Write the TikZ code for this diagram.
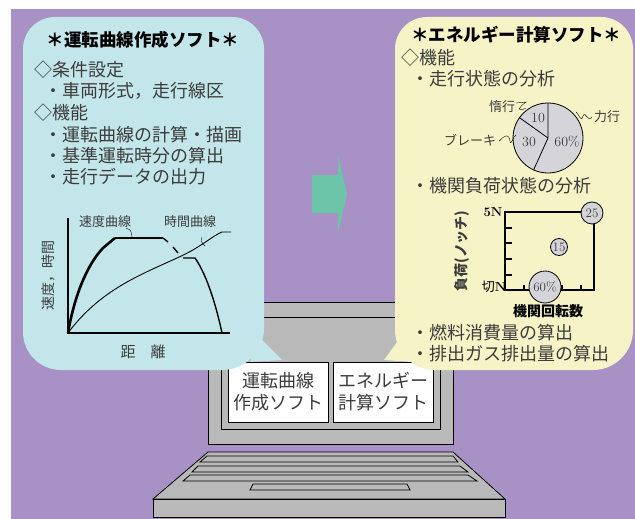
\documentclass[tikz,border=0pt]{standalone}
\usepackage{fontspec}
\usepackage{tikz}
\newfontfamily\jp{Noto Sans CJK JP}
\definecolor{bgpurple}{HTML}{A891C5}
\definecolor{bubblecyan}{HTML}{C3E6EA}
\definecolor{bubbleyellow}{HTML}{F6F4C6}
\definecolor{pcgray}{HTML}{B9B9B9}
\definecolor{arrowgreen}{HTML}{6CC5A9}
\definecolor{piegray}{HTML}{D5D5D9}
\definecolor{ink}{HTML}{3C3C3C}
\def\bodysize{\fontsize{18}{21}\selectfont}
\def\labsize{\fontsize{13}{15}\selectfont}
\newcommand{\lne}[3]{\node[line] (#1) at (#2) {#3};}

\begin{document}
\begin{tikzpicture}[x=1pt,y=-1pt,
  line/.style={anchor=west,inner sep=0pt,text=ink,font=\jp\bodysize},
  heading/.style={inner sep=0pt,font=\jp\bfseries\fontsize{17.5}{20}\selectfont},
  lab/.style={inner sep=0pt,text=ink,font=\jp\labsize},
  num/.style={inner sep=0pt,text=ink,font=\rmfamily\fontsize{14}{16}\selectfont},
  scrbox/.style={draw,thick,fill=white,minimum width=100pt,minimum height=60pt,
    align=center,text=ink,font=\jp\fontsize{18}{22}\selectfont},
  dot/.style={circle,draw,thick,fill=piegray,inner sep=0pt,text=ink,
    font=\rmfamily\fontsize{13}{15}\selectfont}]
\useasboundingbox (0,0) rectangle (635,519);
\fill[bgpurple] (11,9) rectangle (635,519);

% laptop
\draw[thick,fill=pcgray] (208,302) rectangle (453,444);
\draw[thick] (221,317) rectangle (440,429);
\draw[thick,fill=pcgray] (208,452) -- (453,452) -- (505,499) -- (153,499) -- cycle;
\draw[thick,fill=pcgray] (153,499) rectangle (505,517);
\draw[thick,fill=pcgray] (207,456) -- (453,456) -- (458,462) -- (200,462) -- cycle;
\draw[thick,fill=pcgray] (198,466) -- (460,466) -- (468,472) -- (192,472) -- cycle;
\draw[thick,fill=pcgray] (190,475) -- (468,475) -- (477,481) -- (183,481) -- cycle;
\draw[thick,fill=pcgray] (253,484) -- (407,484) -- (410,490) -- (250,490) -- cycle;

% screen windows
\node[scrbox] (drvbox) at (278,392) {運転曲線\\作成ソフト};
\node[scrbox] (engbox) at (383,392) {エネルギー\\計算ソフト};

% speech bubbles
\fill[bubblecyan] (23,200) [rounded corners=32pt] -- (23,17) -- (264,17) -- (264,200)
  [rounded corners=42pt] -- (264,370) -- (150,370) [rounded corners=38pt] -- (23,370) -- (23,200);
\fill[bubblecyan] (258,336) -- (282,360) -- (250,362) -- cycle;
\fill[bubbleyellow] (395,200) [rounded corners=32pt] -- (395,17) -- (633,17) -- (633,200)
  [rounded corners=40pt] -- (633,370) -- (500,370) -- (395,370) -- (395,200);
\fill[bubbleyellow] (400,338) -- (384,360) -- (414,362) -- cycle;

% arrow
\fill[arrowgreen] (312,175) rectangle (339,213);
\fill[arrowgreen] (338,156) -- (347,194) -- (338,233) -- cycle;

% left bubble text
\node[heading] (drvtitle) at (143,40) {＊運転曲線作成ソフト＊};
\lne{cond}{34,70}{◇条件設定}
\lne{cond1}{44,91}{・車両形式，走行線区}
\lne{func}{34,113}{◇機能}
\lne{func1}{44,135}{・運転曲線の計算・描画}
\lne{func2}{44,156}{・基準運転時分の算出}
\lne{func3}{44,177}{・走行データの出力}

% run curve chart
\coordinate (o) at (68,333);
\draw[line width=1.6pt] (68,218) -- (o) -- (230,333);
\draw[line width=2.6pt] (o) .. controls (74,298) and (86,266) .. (103,248) -- (115,238);
\draw[line width=2pt] (115,238) -- (163,238);
\draw[line width=1.4pt] (163,238) -- (168,242) (173,247) -- (178,253);
\draw[line width=1.4pt] (183,258) -- (195,258) .. controls (205,272) and (215,300) .. (222,333);
\draw[line width=0.9pt] (o) .. controls (100,290) and (140,275) .. (177,258)
  .. controls (200,248) and (212,236) .. (222,232) -- (231,232);
\node[lab] (spd) at (105,222) {速度曲線};
\node[lab] (tim) at (190,222) {時間曲線};
\draw (spd.south east) ++(-5,0) .. controls (131,230) .. (132,237);
\draw (202,237) .. controls (201,242) .. (205,246);
\node[lab,rotate=90,font=\jp\fontsize{14}{16}\selectfont] (vaxis) at (48,275) {速度，時間};
\node[lab,font=\jp\fontsize{15}{17}\selectfont] (haxis) at (143,352) {距　離};

% right bubble text
\node[heading] (engtitle) at (516,35) {＊エネルギー計算ソフト＊};
\lne{efunc}{401,58}{◇機能}
\lne{efunc1}{411,79}{・走行状態の分析}
\lne{efunc2}{411,186}{・機関負荷状態の分析}
\lne{efunc3}{411,333}{・燃料消費量の算出}
\lne{efunc4}{411,354}{・排出ガス排出量の算出}

% running state pie
\coordinate (pc) at (548,138);
\draw[thick,fill=piegray] (pc) circle[radius=35pt];
\draw[thick] (pc) -- ++(0,-35) (pc) -- ++(-144.5:35) (pc) -- ++(-245.7:35);
\node[num] (p10) at (538,118) {10};
\node[num] (p30) at (529,142) {30};
\node[num] (p60) at (567,142) {60\%};
\node[lab] (coast) at (502,107) {惰行};
\node[lab] (power) at (607,117) {力行};
\node[lab] (brake) at (470,140) {ブレーキ};
\draw (coast.east) ++(1,-4) -- (526,102) .. controls (521,106) .. (519,109) .. controls (522,110) .. (526,108);
\draw (power.west) ++(-2,0) .. controls (589,124) and (585,110) .. (583,116) .. controls (581,124) and (578,112) .. (576,112);
\draw (brake.east) ++(3,1) .. controls (506,134) and (509,134) .. (510,141) .. controls (511,147) and (513,136) .. (516,135);

% engine load chart
\draw[line width=1.6pt] (505,212) rectangle (594,290);
\foreach \ty in {228,243,259,275} \draw[line width=1.4pt] (505,\ty) -- (512,\ty);
\foreach \tx in {524,562,581} \draw[line width=1.4pt] (\tx,290) -- (\tx,285);
\node[dot,minimum size=22pt] (l25) at (592,213) {25};
\node[dot,minimum size=17pt] (l15) at (559,247) {15};
\node[dot,minimum size=32pt] (l60) at (545,287) {60\%};
\node[inner sep=0pt,font=\rmfamily\bfseries\fontsize{13}{15}\selectfont] (n5) at (493,212) {5N};
\node[inner sep=0pt,font=\fontsize{13}{15}\selectfont] (ncut) at (494,287) {{\jp 切}\textbf{N}};
\node[inner sep=0pt,rotate=90,font=\jp\bfseries\fontsize{14}{16}\selectfont,text=ink] (lyax) at (462,251) {負荷(ノッチ)};
\node[inner sep=0pt,font=\jp\bfseries\fontsize{14}{16}\selectfont] (lxax) at (548,311) {機関回転数};
\end{tikzpicture}
\end{document}
